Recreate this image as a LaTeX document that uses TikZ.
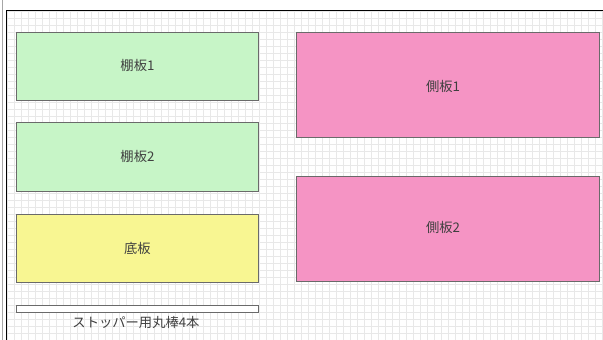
\documentclass[tikz,border=0pt]{standalone}
\usepackage{fontspec}
\setmainfont{Noto Sans CJK JP}
\definecolor{gridc}{HTML}{E8E8E8}
\definecolor{greenf}{HTML}{C7F5C7}
\definecolor{yellowf}{HTML}{F8F692}
\definecolor{pinkf}{HTML}{F594C4}
\definecolor{edgec}{HTML}{6A6A6A}
\definecolor{txtc}{HTML}{3F3F3F}
\tikzset{
  board/.style={draw=edgec, line width=0.9pt, inner sep=0pt, text=txtc,
    font=\fontsize{13.3}{15}\selectfont},
  labeltxt/.style={inner sep=0pt, text=txtc, font=\fontsize{13.3}{15}\selectfont}
}
\begin{document}
\begin{tikzpicture}[x=1pt,y=-1pt]
\useasboundingbox (0,0) rectangle (603,340);
\fill[white] (0,0) rectangle (603,340);
% grid
\begin{scope}
\clip (7,11) rectangle (603,340);
\foreach \i in {0,...,86} {
  \draw[gridc, line width=0.5pt] ({7+7*\i},11) -- ({7+7*\i},340);
}
\foreach \j in {0,...,47} {
  \draw[gridc, line width=0.5pt] (7,{11+7*\j}) -- (603,{11+7*\j});
}
\end{scope}
% frame lines
\draw[black!35, line width=0.6pt] (2,0) -- (2,340);
\draw[black, line width=0.9pt] (6,340) -- (6,10) -- (603,10);
% boards
\node[board, fill=greenf, minimum width=242pt, minimum height=68pt, anchor=north west] (t1) at (16,31.5) {棚板1};
\node[board, fill=greenf, minimum width=242pt, minimum height=69pt, anchor=north west] (t2) at (16,122) {棚板2};
\node[board, fill=yellowf, minimum width=242pt, minimum height=68.5pt, anchor=north west] (bt) at (16,213.5) {底板};
\node[board, fill=white, minimum width=242pt, minimum height=7pt, anchor=north west] (bar) at (16,304.5) {};
\node[labeltxt] (bartxt) at (136,322) {ストッパー用丸棒4本};
\node[board, fill=pinkf, minimum width=303pt, minimum height=105pt, anchor=north west] (s1) at (296,32) {};
\node[labeltxt] (s1t) at (443,86) {側板1};
\node[board, fill=pinkf, minimum width=303pt, minimum height=105pt, anchor=north west] (s2) at (296,176) {};
\node[labeltxt] (s2t) at (443,227) {側板2};
\end{tikzpicture}
\end{document}
